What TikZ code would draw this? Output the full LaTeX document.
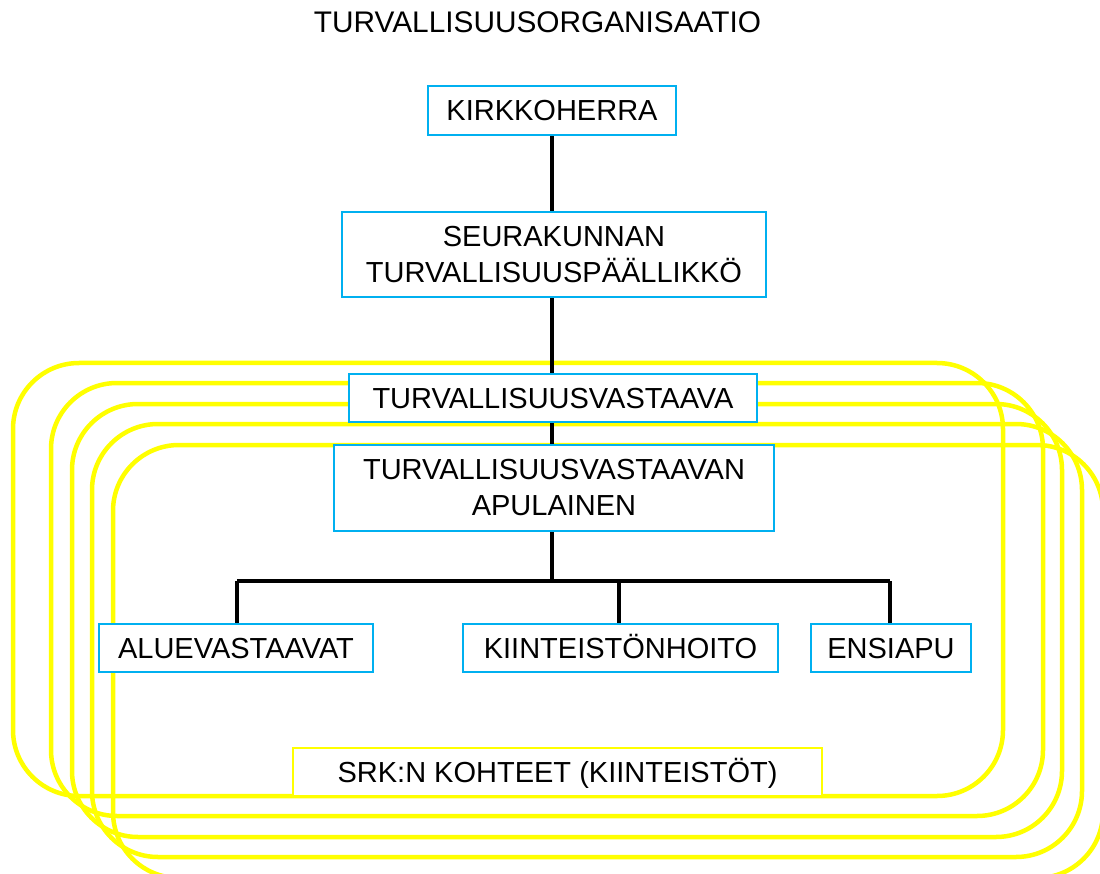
\documentclass[tikz,border=0pt]{standalone}
\usepackage{fontspec}
\setmainfont{Liberation Sans}
\usetikzlibrary{calc}
\pgfdeclarelayer{bg}
\pgfdeclarelayer{lines}
\pgfsetlayers{bg,lines,main}
\definecolor{boxblue}{RGB}{0,176,240}
\definecolor{ylw}{RGB}{255,255,0}
\tikzset{
  orgbox/.style={draw=boxblue, line width=2.5pt, fill=white, inner sep=0pt, align=center,
    font=\fontsize{29}{36}\selectfont},
  onebox/.style={orgbox, text height=21pt, text depth=0pt},
  srkbox/.style={draw=ylw, line width=2.5pt, fill=white, inner sep=0pt,
    font=\fontsize{29}{36}\selectfont, text height=21pt, text depth=0pt},
  ring/.style={draw=ylw, line width=4.5pt, rounded corners=66pt},
  conn/.style={draw=black, line width=4pt},
}
\begin{document}
\begin{tikzpicture}[x=1pt,y=-1pt]
\useasboundingbox (0,0) rectangle (1100,874);
\clip (0,0) rectangle (1100,874);
\node[anchor=base, font=\fontsize{29.8}{36}\selectfont] (title) at (537.5,33) {TURVALLISUUSORGANISAATIO};
\node[onebox, minimum width=248pt, minimum height=49pt] (kirk) at (552,110.5) {KIRKKOHERRA};
\node[orgbox, minimum width=424pt, minimum height=85pt] (seura) at (554,254.5) {SEURAKUNNAN\\TURVALLISUUSPÄÄLLIKKÖ};
\node[onebox, minimum width=408pt, minimum height=48pt] (tv) at (553,398) {TURVALLISUUSVASTAAVA};
\node[orgbox, minimum width=440pt, minimum height=86pt] (apu) at (554,488) {TURVALLISUUSVASTAAVAN\\APULAINEN};
\node[onebox, minimum width=274pt, minimum height=48pt] (alue) at (236,648) {ALUEVASTAAVAT};
\node[onebox, minimum width=315pt, minimum height=48pt] (kiint) at (620.5,648) {KIINTEISTÖNHOITO};
\node[onebox, minimum width=160pt, minimum height=48pt] (ensi) at (891,648) {ENSIAPU};
\node[srkbox, minimum width=529pt, minimum height=48pt] (srk) at (557.5,772) {SRK:N KOHTEET (KIINTEISTÖT)};
\begin{pgfonlayer}{bg}
\draw[ring] (13,363) rectangle (1003,796);
\draw[ring] (51,383) rectangle (1043,816);
\draw[ring] (72,404) rectangle (1062,837);
\draw[ring] (92,424) rectangle (1082,857);
\draw[ring] (113,445) rectangle (1103,878);
\end{pgfonlayer}
\begin{pgfonlayer}{lines}
\coordinate (j) at (552,581);
\coordinate (jl) at (237,581);
\coordinate (jm) at (619,581);
\coordinate (jr) at (890,581);
\draw[conn] (kirk.south) -- (j);
\draw[conn] (jl) -- (jr);
\draw[conn] (jl) -- (jl |- alue.north);
\draw[conn] (jm) -- (jm |- kiint.north);
\draw[conn] (jr) -- (jr |- ensi.north);
\end{pgfonlayer}
\end{tikzpicture}
\end{document}
